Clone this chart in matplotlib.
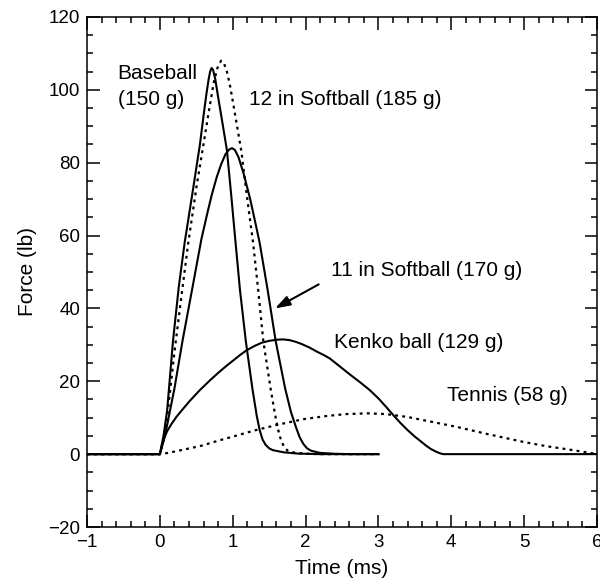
import matplotlib
matplotlib.use('Agg')
import matplotlib.pyplot as plt
from matplotlib.ticker import MultipleLocator

plt.rcParams['font.family'] = ['Liberation Sans', 'DejaVu Sans']

# Force vs time curves (time in ms, force in lb)
baseball_t = [-1, 0, 0.05, 0.1, 0.18, 0.26, 0.34, 0.45, 0.55, 0.6, 0.64, 0.67, 0.69, 0.71,
              0.73, 0.76, 0.8, 0.85, 0.92, 0.98, 1.03, 1.10, 1.18, 1.27, 1.33, 1.37, 1.41,
              1.45, 1.5, 1.55, 1.7, 1.9, 2.2, 3.0]
baseball_f = [0, 0, 5, 12, 31, 46, 58, 72, 85, 93, 99, 103, 105, 106,
              105.5, 103, 98, 92, 83.5, 71, 60, 45, 31, 18, 10.5, 6.6, 4,
              2.6, 1.6, 1.1, 0.5, 0.15, 0, 0]

soft12_t = [-1, 0, 0.05, 0.1, 0.2, 0.3, 0.39, 0.5, 0.59, 0.68, 0.74, 0.79, 0.84, 0.88,
            0.92, 0.96, 1.0, 1.06, 1.12, 1.2, 1.28, 1.35, 1.42, 1.52, 1.58, 1.62, 1.66,
            1.7, 1.75, 1.85, 2.0, 2.2, 3.0]
soft12_f = [0, 0, 4, 10, 28, 44, 58, 73, 84, 95, 102, 106, 108, 107.3,
            105, 101.5, 97, 90, 83, 70, 58, 45, 31, 18, 11, 7, 4,
            2.2, 1.0, 0.4, 0.1, 0, 0]

soft11_t = [-1, 0, 0.05, 0.1, 0.2, 0.31, 0.45, 0.57, 0.65, 0.71, 0.78, 0.84, 0.9, 0.95,
            0.99, 1.03, 1.08, 1.15, 1.24, 1.3, 1.37, 1.48, 1.59, 1.72, 1.8, 1.87, 1.92,
            1.97, 2.02, 2.08, 2.2, 2.4, 2.6, 3.0]
soft11_f = [0, 0, 3.5, 8, 18, 31, 46, 59, 66, 71, 76, 79.5, 82.3, 83.6,
            84, 83.5, 81.5, 77, 70, 64.5, 58, 45, 31, 18, 11.5, 7.3, 4.6,
            2.8, 1.6, 0.9, 0.35, 0.1, 0, 0]

kenko_t = [-1, 0, 0.03, 0.06, 0.1, 0.16, 0.23, 0.3, 0.41, 0.55, 0.69, 0.8, 0.9, 1.0, 1.1,
           1.19, 1.3, 1.4, 1.5, 1.6, 1.69, 1.78, 1.87, 1.95, 2.05, 2.15, 2.25, 2.33, 2.45,
           2.6, 2.75, 2.88, 3.0, 3.1, 3.2, 3.3, 3.4, 3.5, 3.57, 3.65, 3.72, 3.8, 3.85,
           3.89, 6.0]
kenko_f = [0, 0, 2.5, 4.4, 6.3, 8.3, 10.3, 12, 14.6, 17.6, 20.3, 22.3, 24, 25.6, 27.2,
           28.5, 29.7, 30.6, 31.1, 31.4, 31.5, 31.3, 30.8, 30.2, 29.3, 28.2, 27.2, 26.3, 24.4,
           22, 19.7, 17.6, 15.3, 13.1, 10.8, 8.6, 6.6, 4.8, 3.7, 2.4, 1.4, 0.6, 0.2,
           0, 0]

tennis_t = [-1, 0, 0.1, 0.2, 0.41, 0.55, 0.82, 1.0, 1.28, 1.6, 1.97, 2.3, 2.56, 2.85, 3.1,
            3.4, 3.8, 4.07, 4.5, 4.98, 5.3, 5.67, 5.95, 6.0]
tennis_f = [0, 0, 0.3, 0.7, 1.6, 2.2, 3.8, 4.8, 6.4, 8.0, 9.6, 10.5, 11.0, 11.2, 11.0,
            10.2, 8.6, 7.5, 5.5, 3.4, 2.2, 1.1, 0.2, 0]

dots = (0, (1.3, 1.9))

fig = plt.figure(figsize=(6.0, 5.84), dpi=100)
ax = fig.add_axes([0.145, 0.0976, 0.85, 0.8733])

ax.plot(baseball_t, baseball_f, color='black', lw=1.5)
ax.plot(soft12_t, soft12_f, color='black', lw=1.6, linestyle=dots)
ax.plot(soft11_t, soft11_f, color='black', lw=1.5)
ax.plot(kenko_t, kenko_f, color='black', lw=1.5)
ax.plot(tennis_t, tennis_f, color='black', lw=1.6, linestyle=dots)

fs = 13.5
afs = 15
ax.text(-0.58, 104.5, 'Baseball', fontsize=afs, ha='left', va='center')
ax.text(-0.58, 97.4, '(150 g)', fontsize=afs, ha='left', va='center')
ax.text(1.23, 97.4, '12 in Softball (185 g)', fontsize=afs, ha='left', va='center')
ax.text(2.35, 50.3, '11 in Softball (170 g)', fontsize=afs, ha='left', va='center')
ax.text(2.39, 30.6, 'Kenko ball (129 g)', fontsize=afs, ha='left', va='center')
ax.text(3.94, 16.1, 'Tennis (58 g)', fontsize=afs, ha='left', va='center')

ax.annotate('', xy=(1.58, 40), xytext=(2.18, 46.6),
            arrowprops=dict(arrowstyle='-|>,head_length=0.9,head_width=0.3',
                            color='black', lw=1.5, shrinkA=0, shrinkB=0))

ax.set_xlim(-1, 6)
ax.set_ylim(-20, 120)
ax.xaxis.set_major_locator(MultipleLocator(1))
ax.xaxis.set_minor_locator(MultipleLocator(0.2))
ax.yaxis.set_major_locator(MultipleLocator(20))
ax.yaxis.set_minor_locator(MultipleLocator(5))
ax.tick_params(which='both', direction='in', top=True, right=True,
               labelsize=fs, width=1.1, pad=5)
ax.tick_params(which='major', length=9)
ax.tick_params(which='minor', length=4.5)
for s in ax.spines.values():
    s.set_linewidth(1.1)

ax.set_xlabel('Time (ms)', fontsize=afs, labelpad=6)
ax.set_ylabel('Force (lb)', fontsize=afs, labelpad=8)

fig.savefig('out.png', dpi=100)
